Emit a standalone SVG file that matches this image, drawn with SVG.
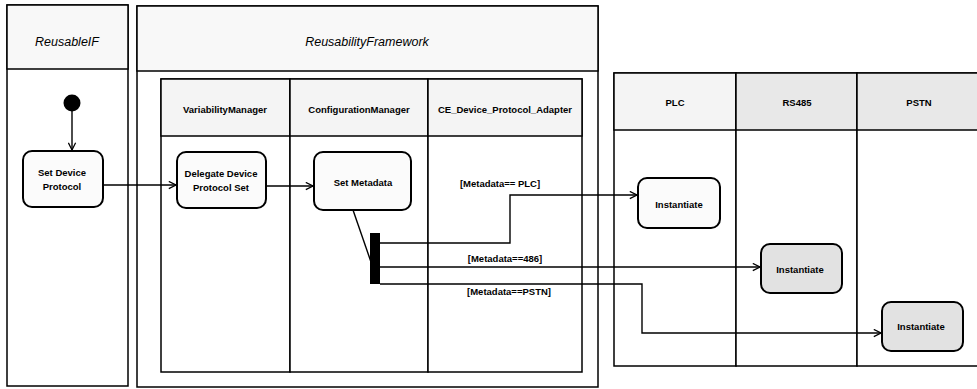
<svg xmlns="http://www.w3.org/2000/svg" width="977" height="389" viewBox="0 0 977 389">
  <style>
    .lane{fill:#ffffff;stroke:#000;stroke-width:1.5}
    .hdr{fill:#f4f4f4;stroke:#000;stroke-width:1.5}
    .hdr2{fill:#e8e8e8;stroke:#000;stroke-width:1.5}
    .hdr0{fill:#f8f8f8;stroke:#000;stroke-width:1.5}
    .act{fill:#fbfbfb;stroke:#000;stroke-width:2}
    .act2{fill:#e2e2e2;stroke:#000;stroke-width:2}
    .t{font-family:"Liberation Sans",Arial,sans-serif;font-weight:bold;font-size:9.5px;fill:#000;text-anchor:middle}
    .ti{font-family:"Liberation Sans",Arial,sans-serif;font-style:italic;font-size:12.5px;fill:#000;text-anchor:middle}
    .c{fill:none;stroke:#000;stroke-width:1.4}
  </style>
  <defs>
    <marker id="arr" viewBox="0 0 10 10" refX="9" refY="5" markerWidth="9" markerHeight="9" markerUnits="userSpaceOnUse" orient="auto">
      <path d="M1,1 L9,5 L1,9" fill="none" stroke="#000" stroke-width="1.4"/>
    </marker>
  </defs>
  <rect width="977" height="389" fill="#ffffff"/>

  <!-- ReusableIF lane -->
  <g id="lane-reusableif">
    <rect class="lane" x="7" y="5" width="121" height="381"/>
    <rect class="hdr0" x="7" y="5" width="121" height="64"/>
    <text class="ti" x="67" y="46">ReusableIF</text>
  </g>

  <!-- ReusabilityFramework lane -->
  <g id="lane-reusabilityframework">
    <rect class="lane" x="137" y="6" width="461" height="381"/>
    <rect class="hdr0" x="137" y="6" width="461" height="65"/>
    <text class="ti" x="367" y="46">ReusabilityFramework</text>
  </g>

  <!-- inner lanes -->
  <g id="lane-variabilitymanager">
    <rect class="lane" x="161" y="79" width="129" height="293"/>
    <rect class="hdr" x="161" y="79" width="129" height="57"/>
    <text class="t" x="225" y="113">VariabilityManager</text>
  </g>
  <g id="lane-configurationmanager">
    <rect class="lane" x="290" y="79" width="138" height="293"/>
    <rect class="hdr" x="290" y="79" width="138" height="57"/>
    <text class="t" x="359" y="113">ConfigurationManager</text>
  </g>
  <g id="lane-adapter">
    <rect class="lane" x="428" y="79" width="154" height="293"/>
    <rect class="hdr" x="428" y="79" width="154" height="57"/>
    <text class="t" x="505" y="113">CE_Device_Protocol_Adapter</text>
  </g>

  <!-- protocol lanes -->
  <g id="lane-plc">
    <rect class="lane" x="614" y="73" width="122" height="293"/>
    <rect class="hdr" x="614" y="73" width="122" height="57"/>
    <text class="t" x="675" y="106">PLC</text>
  </g>
  <g id="lane-rs485">
    <rect class="lane" x="736" y="73" width="121" height="293"/>
    <rect class="hdr2" x="736" y="73" width="121" height="57"/>
    <text class="t" x="797" y="106">RS485</text>
  </g>
  <g id="lane-pstn">
    <rect class="lane" x="857" y="73" width="130" height="293"/>
    <rect class="hdr2" x="857" y="73" width="130" height="57"/>
    <text class="t" x="919" y="106">PSTN</text>
  </g>

  <!-- connectors -->
  <g id="connectors">
    <line class="c" x1="72" y1="111" x2="72" y2="150" marker-end="url(#arr)"/>
    <line class="c" x1="103" y1="185" x2="176" y2="185" marker-end="url(#arr)"/>
    <line class="c" x1="266" y1="186" x2="313" y2="186" marker-end="url(#arr)"/>
    <line class="c" x1="353" y1="210" x2="371" y2="262"/>
    <polyline class="c" points="380,243 510,243 510,195 637,195" marker-end="url(#arr)"/>
    <line class="c" x1="380" y1="267" x2="760" y2="267" marker-end="url(#arr)"/>
    <polyline class="c" points="380,284 642,284 642,333 881,333" marker-end="url(#arr)"/>
    <text class="t" x="500" y="187">[Metadata== PLC]</text>
    <text class="t" x="505" y="262">[Metadata==486]</text>
    <text class="t" x="509" y="295">[Metadata==PSTN]</text>
  </g>

  <!-- nodes -->
  <g id="start">
    <circle cx="72" cy="103" r="8.5" fill="#000"/>
  </g>
  <g id="set-device-protocol">
    <rect class="act" x="23" y="151" width="80" height="56" rx="9"/>
    <text class="t" x="62" y="176">Set Device</text>
    <text class="t" x="62" y="190">Protocol</text>
  </g>
  <g id="delegate-device-protocol-set">
    <rect class="act" x="177" y="152" width="89" height="56" rx="9"/>
    <text class="t" x="221" y="177">Delegate Device</text>
    <text class="t" x="221" y="191">Protocol Set</text>
  </g>
  <g id="set-metadata">
    <rect class="act" x="314" y="152" width="97" height="58" rx="9"/>
    <text class="t" x="363" y="186">Set Metadata</text>
  </g>
  <g id="fork">
    <rect x="370" y="233" width="10" height="51" fill="#000"/>
  </g>
  <g id="instantiate-plc">
    <rect class="act" x="638" y="178" width="82" height="50" rx="9"/>
    <text class="t" x="679" y="208">Instantiate</text>
  </g>
  <g id="instantiate-rs485">
    <rect class="act2" x="761" y="244" width="81" height="49" rx="9"/>
    <text class="t" x="800" y="273">Instantiate</text>
  </g>
  <g id="instantiate-pstn">
    <rect class="act2" x="882" y="302" width="81" height="49" rx="9"/>
    <text class="t" x="921" y="330">Instantiate</text>
  </g>
</svg>
